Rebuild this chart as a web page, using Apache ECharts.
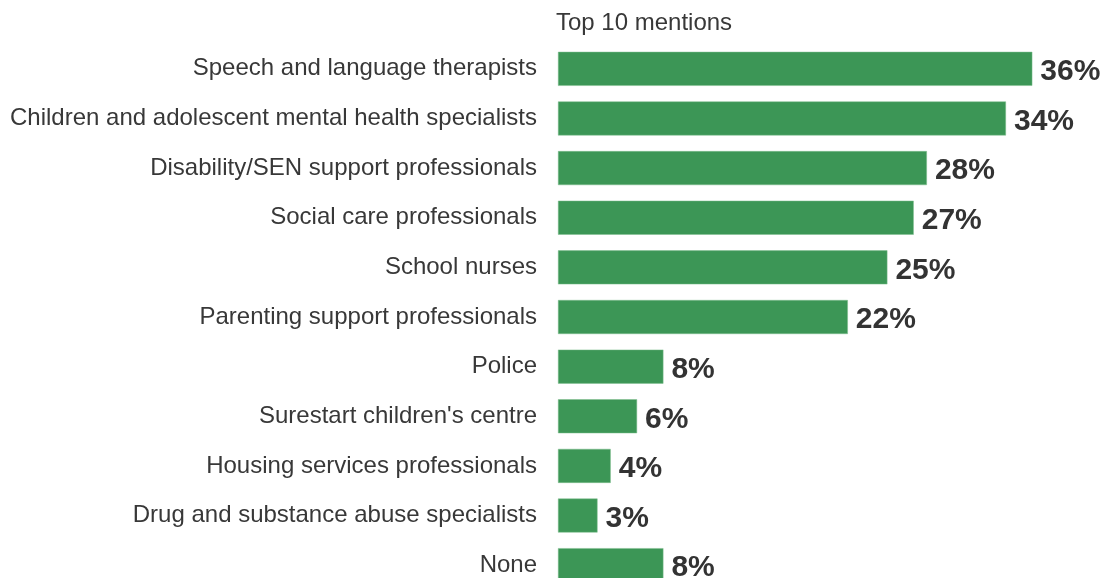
<!DOCTYPE html>
<html>
<head>
<meta charset="utf-8">
<script src="https://cdn.jsdelivr.net/npm/echarts@6/dist/echarts.min.js"></script>
<style>
  html, body { margin: 0; padding: 0; background: #ffffff; overflow: hidden; }
  #chart { width: 1111px; height: 600px; }
</style>
</head>
<body>
<div id="chart"></div>
<script>
// Professionals mentioned (top 10 plus "None"), share of respondents in %
const categories = [
  "Speech and language therapists",
  "Children and adolescent mental health specialists",
  "Disability/SEN support professionals",
  "Social care professionals",
  "School nurses",
  "Parenting support professionals",
  "Police",
  "Surestart children's centre",
  "Housing services professionals",
  "Drug and substance abuse specialists",
  "None"
];
const shares = [36, 34, 28, 27, 25, 22, 8, 6, 4, 3, 8];
const headerText = "Top 10 mentions";

const chart = echarts.init(document.getElementById("chart"), null, { renderer: "canvas" });

chart.setOption({
  animation: false,
  backgroundColor: "#ffffff",
  title: {
    text: headerText,
    left: 556,
    top: 11,
    padding: 0,
    textStyle: {
      fontFamily: "Liberation Sans, Arial, sans-serif",
      fontSize: 24,
      fontWeight: "normal",
      color: "#383838"
    }
  },
  grid: {
    left: 558,
    top: 44,
    width: 527,
    height: 546,
    containLabel: false
  },
  xAxis: {
    type: "value",
    min: 0,
    max: 40,
    show: false
  },
  yAxis: {
    type: "category",
    data: categories,
    inverse: true,
    axisLine: { show: false },
    axisTick: { show: false },
    splitLine: { show: false },
    axisLabel: {
      margin: 21,
      padding: [4, 0, 0, 0],
      fontFamily: "Liberation Sans, Arial, sans-serif",
      fontSize: 24,
      color: "#383838"
    }
  },
  series: [{
    type: "bar",
    data: shares,
    barWidth: 34,
    itemStyle: {
      color: "#3c9656",
      borderColor: "#7fbf8f",
      borderWidth: 0.5
    },
    label: {
      show: true,
      position: "right",
      distance: 8,
      formatter: "{c}%",
      fontFamily: "Liberation Sans, Arial, sans-serif",
      fontSize: 30,
      fontWeight: "bold",
      color: "#333333",
      offset: [0, 3]
    }
  }]
});
</script>
</body>
</html>
